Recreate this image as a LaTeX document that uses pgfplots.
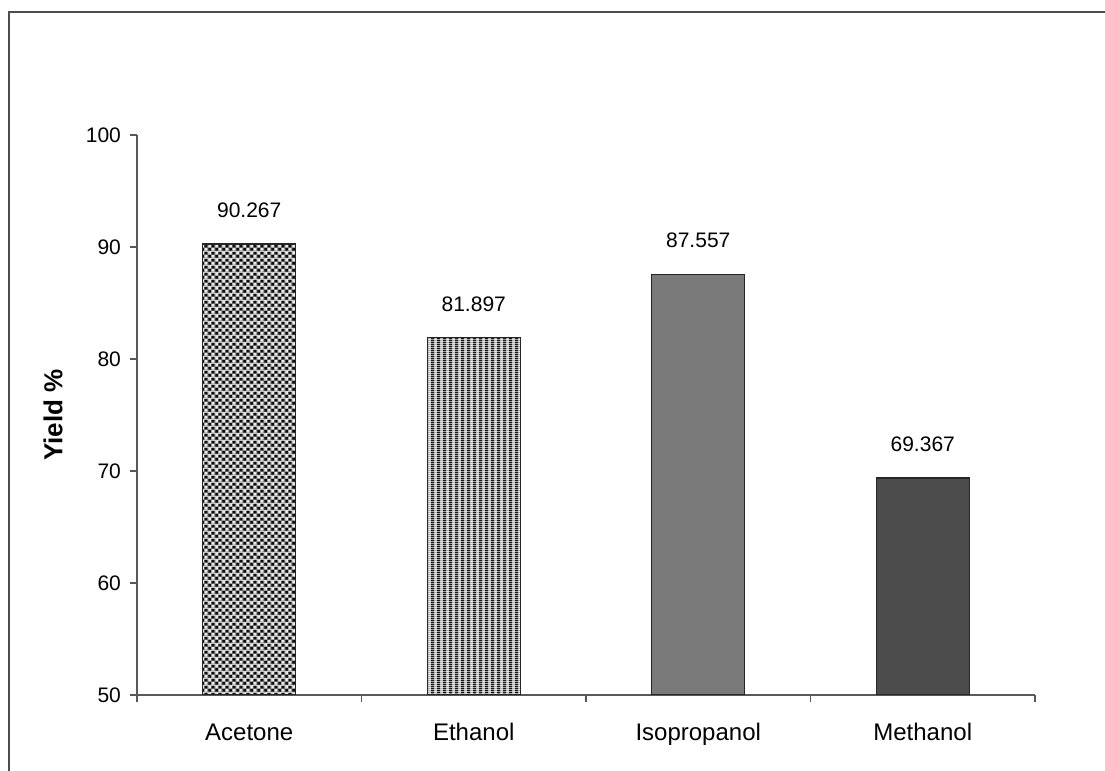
\documentclass[border=0pt]{standalone}
\usepackage{fontspec}
\setmainfont{Liberation Sans}
\usepackage{pgfplots}
\pgfplotsset{compat=1.18}
\usetikzlibrary{patterns}
\pgfdeclarepatterninherentlycolored{mychecker}{\pgfpointorigin}{\pgfqpoint{3.6pt}{3.6pt}}{\pgfqpoint{3.6pt}{3.6pt}}{%
  \pgfsetfillcolor{black!50}%
  \pgfpathrectangle{\pgfpointorigin}{\pgfqpoint{3.6pt}{3.6pt}}\pgfusepath{fill}%
  \pgfsetfillcolor{black!95}%
  \pgfpathrectangle{\pgfqpoint{0.25pt}{0.25pt}}{\pgfqpoint{1.3pt}{1.3pt}}%
  \pgfpathrectangle{\pgfqpoint{2.05pt}{2.05pt}}{\pgfqpoint{1.3pt}{1.3pt}}\pgfusepath{fill}%
  \pgfsetfillcolor{white!92!black}%
  \pgfpathrectangle{\pgfqpoint{2.05pt}{0.25pt}}{\pgfqpoint{1.3pt}{1.3pt}}%
  \pgfpathrectangle{\pgfqpoint{0.25pt}{2.05pt}}{\pgfqpoint{1.3pt}{1.3pt}}\pgfusepath{fill}}
\pgfdeclarepatterninherentlycolored{mystripes}{\pgfpointorigin}{\pgfqpoint{2.8pt}{1pt}}{\pgfqpoint{2.8pt}{1pt}}{%
  \pgfsetfillcolor{black!28}%
  \pgfpathrectangle{\pgfpointorigin}{\pgfqpoint{2.8pt}{1pt}}\pgfusepath{fill}%
  \pgfsetfillcolor{black!90}%
  \pgfpathrectangle{\pgfpointorigin}{\pgfqpoint{1.6pt}{1pt}}\pgfusepath{fill}}
\begin{document}
\begin{tikzpicture}
\draw[black!70, line width=0.7pt] (4.5pt,0) -- (4.5pt,379.5pt) -- (552.5pt,379.5pt);
\begin{axis}[
  at={(68.5pt,38pt)}, anchor=south west,
  scale only axis, width=449pt, height=280pt,
  xmin=-0.5, xmax=3.5, ymin=50, ymax=100,
  axis x line*=bottom, axis y line*=left,
  axis line style={black!65, line width=0.6pt},
  xtick={0,1,2,3}, xticklabels={Acetone,Ethanol,Isopropanol,Methanol},
  minor xtick={-0.5,0.5,1.5,2.5,3.5},
  ytick={50,60,...,100},
  tick align=outside, major tick length=3.5pt, minor tick length=3.5pt,
  tick style={black!65, line width=0.6pt},
  major x tick style={draw=none},
  /pgf/number format/assume math mode=true,
  yticklabel style={font=\fontsize{10.5}{12}\selectfont, xshift=-1pt},
  xticklabel style={font=\fontsize{12}{14}\selectfont, text height=9pt, text depth=2.6pt, yshift=-6.5pt},
  ybar, bar width=46.5pt, bar shift=0pt,
  nodes near coords, point meta=explicit symbolic,
  every node near coord/.append style={font=\fontsize{10.5}{12}\selectfont, yshift=9.5pt, black},
  ylabel={Yield \%},
  ylabel style={at={(axis description cs:-0.0935,0.5)}, anchor=center, font=\bfseries\fontsize{13}{15}\selectfont},
]
\addplot[draw=black!85, line width=0.7pt, pattern=mychecker] coordinates {(0,90.267) [90.267]};
\addplot[draw=black!85, line width=0.7pt, pattern=mystripes] coordinates {(1,81.897) [81.897]};
\addplot[fill=black!52, draw=black!85, line width=0.7pt] coordinates {(2,87.557) [87.557]};
\addplot[fill=black!70, draw=black!85, line width=0.7pt] coordinates {(3,69.367) [69.367]};
\end{axis}
\pgfresetboundingbox
\useasboundingbox (0,0) rectangle (552.5pt,385.5pt);
\end{tikzpicture}
\end{document}
